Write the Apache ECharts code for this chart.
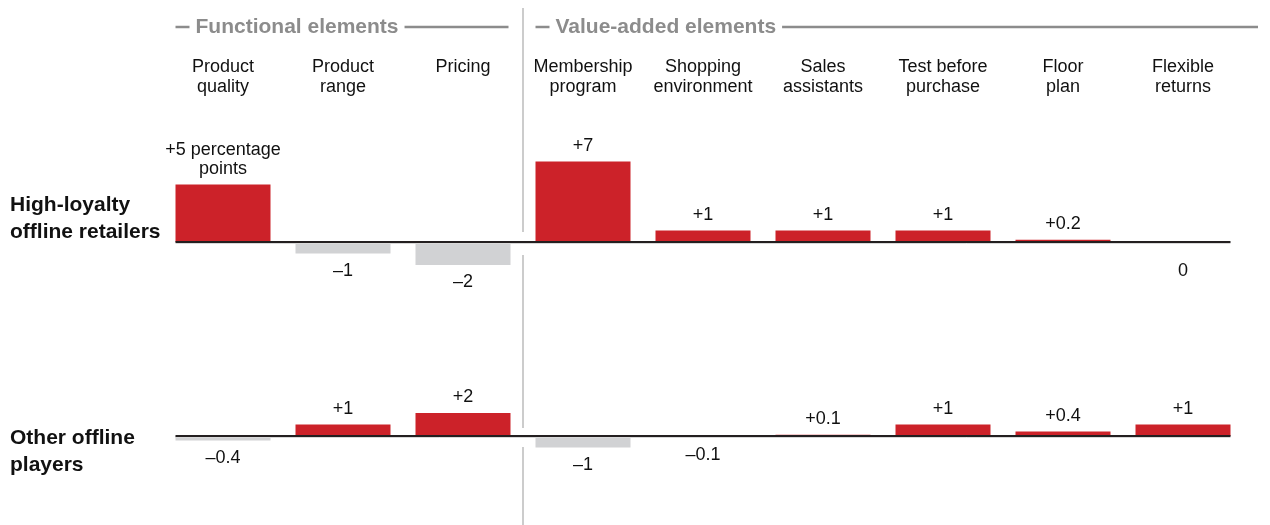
<!DOCTYPE html>
<html><head><meta charset="utf-8">
<script src="https://cdn.jsdelivr.net/npm/echarts@6/dist/echarts.min.js"></script>
<style>html,body{margin:0;padding:0;background:#fff}#c{width:1270px;height:525px}</style>
</head><body><div id="c"></div>
<script>
const categories = ['Product\nquality','Product\nrange','Pricing','Membership\nprogram','Shopping\nenvironment','Sales\nassistants','Test before\npurchase','Floor\nplan','Flexible\nreturns'];
const groupNames = ['Functional elements','Value-added elements'];
const rowNames = ['High-loyalty\noffline retailers','Other offline\nplayers'];
const highLoyalty = [5, -1, -2, 7, 1, 1, 1, 0.2, 0];
const otherPlayers = [-0.4, 1, 2, -1, -0.1, 0.1, 1, 0.4, 1];
const firstLabelUnit = ' percentage\npoints';

const RED = '#cc2229', GRAY = '#d1d2d4', FONT = 'Liberation Sans, Arial, sans-serif';
function fmt(v){ return v > 0 ? '+' + v : (v < 0 ? '\u2013' + Math.abs(v) : '0'); }
function items(arr, withUnit){
  return arr.map((v, i) => ({
    value: v,
    itemStyle: { color: v > 0 ? RED : GRAY },
    label: { position: v > 0 ? 'top' : 'bottom', distance: v === 0 ? 20 : (v < 0 ? 8 : 6),
             formatter: (withUnit && i === 0) ? fmt(v) + firstLabelUnit : fmt(v) }
  }));
}
const chart = echarts.init(document.getElementById('c'), null, {renderer:'canvas'});
const grids = [
  { left: 163, right: 27, top: 150, height: 138 },
  { left: 163, right: 27, top: 344, height: 138 }
];
const yA = i => ({ type:'value', gridIndex:i, min:-4, max:8, show:false });
const xA = (i, showLabel) => ({
  type:'category', gridIndex:i, data: categories, position:'top',
  axisLine:{show:false}, axisTick:{show:false}, splitLine:{show:false},
  axisLabel:{ show: showLabel, interval: 0, margin: 53, color:'#111', fontFamily: FONT, fontSize: 18, lineHeight: 20,
              formatter: s => s.indexOf('\n') < 0 ? s + '\n ' : s }
});
const labelBase = { show:true, color:'#111', fontFamily: FONT, fontSize: 18, lineHeight: 19 };
chart.setOption({
  animation:false,
  grid: grids,
  xAxis: [xA(0, true), xA(1, false)],
  yAxis: [yA(0), yA(1)],
  series: [
    { type:'bar', name: rowNames[0], xAxisIndex:0, yAxisIndex:0, barWidth:95, data: items(highLoyalty, true), label: labelBase },
    { type:'bar', name: rowNames[1], xAxisIndex:1, yAxisIndex:1, barWidth:95, data: items(otherPlayers, false), label: labelBase }
  ]
});

function drawDecor(){
  const g = [];
  const half = 47.5;
  [0,1].forEach(r => {
    const x0 = chart.convertToPixel({xAxisIndex:r}, categories[0]) - half;
    const x1 = chart.convertToPixel({xAxisIndex:r}, categories[categories.length-1]) + half;
    const y0 = chart.convertToPixel({yAxisIndex:r}, 0);
    g.push({ type:'line', shape:{x1:x0, y1:y0+1.5, x2:x1, y2:y0+1.5}, style:{stroke:'#d8d8d8', lineWidth:1}, z:10 });
    g.push({ type:'line', shape:{x1:x0, y1:y0, x2:x1, y2:y0}, style:{stroke:'#231f20', lineWidth:2.2}, z:11 });
    g.push({ type:'text', left: 10, top: y0 - (r === 0 ? 50 : 11), style:{ text: rowNames[r], fill:'#111', font: 'bold 21px ' + FONT, lineHeight: 27 } });
  });
  // divider between groups
  const xd = (chart.convertToPixel({xAxisIndex:0}, categories[2]) + chart.convertToPixel({xAxisIndex:0}, categories[3])) / 2;
  const yb0 = chart.convertToPixel({yAxisIndex:0}, 0), yb1 = chart.convertToPixel({yAxisIndex:1}, 0);
  const segs = [[8, yb0-10], [yb0+13, yb1-8], [yb1+11, 525]];
  segs.forEach(s => g.push({ type:'line', shape:{x1:xd, y1:s[0], x2:xd, y2:s[1]}, style:{stroke:'#cccccc', lineWidth:2} }));
  // group headers
  const hy = 27;
  const groups = [[0,2],[3,8]];
  groups.forEach((gr, k) => {
    const xs = chart.convertToPixel({xAxisIndex:0}, categories[gr[0]]) - half;
    const xe = k === 0 ? chart.convertToPixel({xAxisIndex:0}, categories[gr[1]]) + half - 2 : 1258;
    g.push({ type:'line', shape:{x1:xs, y1:hy, x2:xs+14, y2:hy}, style:{stroke:'#8c8c8c', lineWidth:2.5} });
    g.push({ type:'text', x: xs+20, y: hy + 0.5, style:{ text: groupNames[k], fill:'#8c8c8c', font:'bold 21px ' + FONT, verticalAlign:'middle' } });
    g.push({ type:'line', id:'hl'+k, shape:{x1:xs+20, y1:hy, x2:xe, y2:hy}, style:{stroke:'#8c8c8c', lineWidth:2.5} });
  });
  chart.setOption({ graphic: g });
  const els = chart.getZr().storage.getDisplayList();
  const g2 = [];
  groups.forEach((gr, k) => {
    const txt = els.find(e => e.style && e.style.text === groupNames[k]);
    if (txt) {
      const br = txt.getBoundingRect();
      const xs = chart.convertToPixel({xAxisIndex:0}, categories[gr[0]]) - half;
      const xe = k === 0 ? chart.convertToPixel({xAxisIndex:0}, categories[gr[1]]) + half - 2 : 1258;
      g2.push({ id:'hl'+k, shape:{x1: xs + 20 + br.width + 6, y1:hy, x2:xe, y2:hy} });
    }
  });
  if (g2.length) chart.setOption({ graphic: g2 });
}
drawDecor();
</script></body></html>
